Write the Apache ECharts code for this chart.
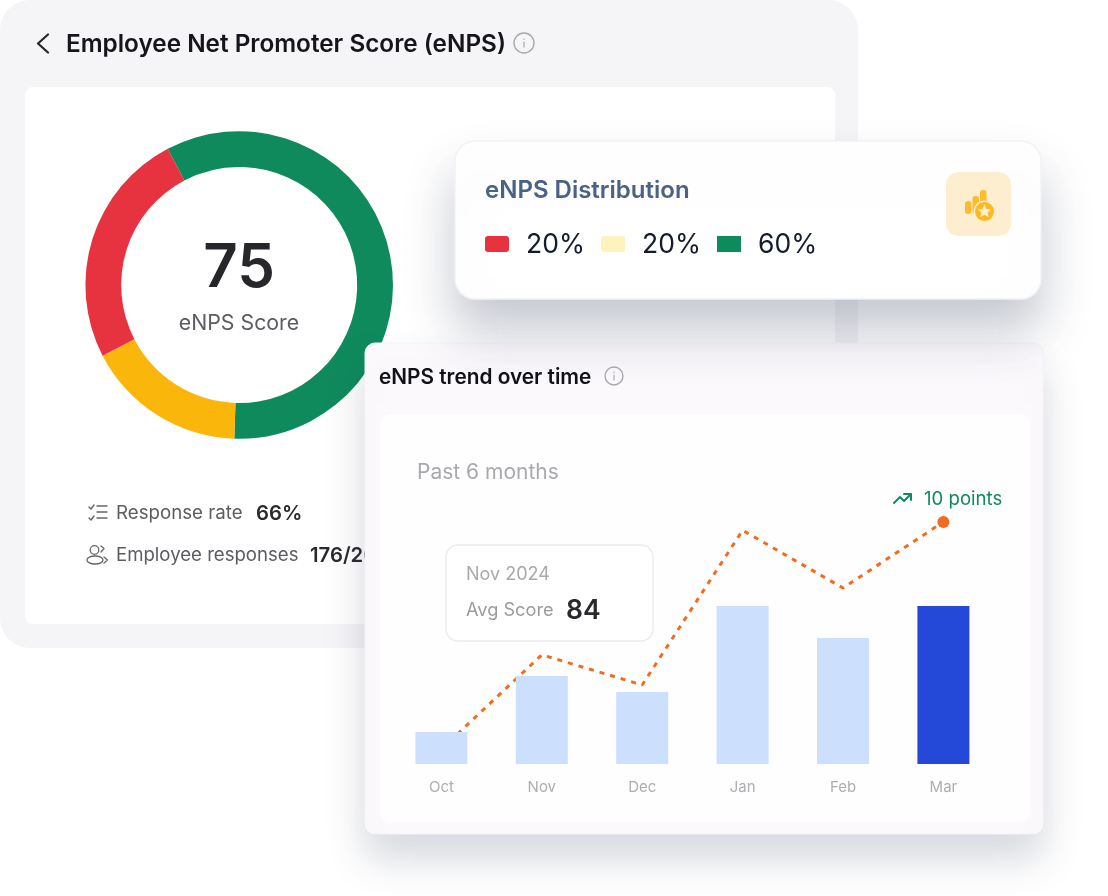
<!DOCTYPE html>
<html><head><meta charset="utf-8">
<style>html,body{margin:0;padding:0;background:#fff}#c{width:1108px;height:896px}</style>
<script src="https://cdn.jsdelivr.net/npm/echarts@6/dist/echarts.min.js"></script>
</head><body><div id="c"></div>
<script>
const donutNames = ['Promoters', 'Passives', 'Detractors'];
const donutValues = [58.2, 16.9, 24.9];
const donutColors = ['#0f8a5d', '#fbb60b', '#e7323f'];
const months = ['Oct', 'Nov', 'Dec', 'Jan', 'Feb', 'Mar'];
const barValues = [24.6, 67.7, 55.4, 121.5, 96.9, 121.5];
const lineValues = [11.5, 84, 60.8, 179.8, 135.4, 186.2];
const legendLabels = ['20%', '20%', '60%'];
const legendColors = ['#e8323f', '#fef3bd', '#0f8a5d'];

const F = 'Inter, "Noto Sans", sans-serif';
const text = (x, y, t, size, color, weight, z, align) => ({
  type: 'text', z: z, silent: true,
  style: { x, y, text: t, font: `${weight || 400} ${size}px ${F}`, fill: color, textAlign: align || 'left', textVerticalAlign: 'middle' }
});
const rect = (x, y, w, h, r, style, z) => ({
  type: 'rect', z: z, silent: true, shape: { x, y, width: w, height: h, r }, style
});
const stroke = (color, w) => ({ stroke: color, lineWidth: w, fill: null, lineCap: 'round', lineJoin: 'round' });
const poly = (points, color, w, z) => ({ type: 'polyline', z, silent: true, shape: { points }, style: stroke(color, w) });
const ring = (cx, cy, r, color, w, z) => ({ type: 'circle', z, silent: true, shape: { cx, cy, r }, style: stroke(color, w) });
const info = (cx, cy, r, z) => [
  ring(cx, cy, r, '#a8a8ac', 1.4, z),
  poly([[cx, cy - 1], [cx, cy + 4]], '#a8a8ac', 1.2, z),
  poly([[cx, cy - 4], [cx, cy - 3.6]], '#a8a8ac', 1.2, z)
];

const Z1 = 1, Z3 = 6;
const C3 = 3.5, C2 = 3.55, INNER = 3.6, C2T = 3.7;
const elements = [
  // back card
  rect(0, 0, 858, 648, 30, { fill: '#f5f4f7' }, Z1 - 0.5),
  rect(25, 87, 810, 537, 8, { fill: '#ffffff' }, Z1 - 0.4),
  poly([[48, 34.5], [38, 43.5], [48, 52.5]], '#26262b', 2.3, Z1),
  text(66, 45, 'Employee Net Promoter Score (eNPS)', 24.3, '#15151c', 600, Z1),
  ...info(524, 43, 10, Z1),
  text(239, 269, '75', 60, '#26262b', 600, Z1, 'center'),
  text(239, 324, 'eNPS Score', 21.3, '#5c5c62', 400, Z1, 'center'),
  // response rows
  poly([[89, 507], [91, 509], [94, 505]], '#666', 1.4, Z1),
  poly([[89, 518], [91, 520], [94, 516]], '#666', 1.4, Z1),
  poly([[97, 506], [107, 506]], '#666', 1.4, Z1),
  poly([[97, 512], [107, 512]], '#666', 1.4, Z1),
  poly([[97, 518], [107, 518]], '#666', 1.4, Z1),
  text(116, 513, 'Response rate', 18.7, '#5c5c62', 400, Z1),
  text(256, 513.5, '66%', 20.3, '#2a2a2e', 600, Z1),
  ring(94.5, 550, 4.3, '#666', 1.3, Z1),
  { type: 'ellipse', z: Z1, silent: true, shape: { cx: 95, cy: 560, rx: 8, ry: 4 }, style: stroke('#666', 1.3) },
  poly([[101, 546], [104, 548.5], [101, 552]], '#666', 1.3, Z1),
  poly([[104, 557], [107.5, 560], [104, 563]], '#666', 1.3, Z1),
  text(116, 555, 'Employee responses', 18.6, '#5c5c62', 400, Z1),
  text(310, 555.5, '176/266', 20.3, '#2a2a2e', 600, Z1),
  // trend card (under the shadow of the distribution card)
  rect(365, 343, 678, 491, 10, { fill: '#fbf9fc', stroke: '#f6f4f8', lineWidth: 1, shadowBlur: 40, shadowOffsetY: 24, shadowColor: 'rgba(50,60,90,0.2)' }, C3),
  // distribution card
  rect(455, 141, 586, 158, 20, { fill: '#ffffff', stroke: '#f2f2f6', lineWidth: 1.5, shadowBlur: 50, shadowOffsetY: 32, shadowColor: 'rgba(50,60,90,0.28)' }, C2),
  rect(380, 414, 650, 408, 10, { fill: '#fffeff' }, INNER),
  text(485, 190.5, 'eNPS Distribution', 24, '#4a6285', 600, C2T),
  rect(485, 236, 24, 16, 3, { fill: legendColors[0] }, C2T),
  text(526, 245, legendLabels[0], 26.5, '#141b2d', 400, C2T),
  rect(601, 236, 24, 16, 3, { fill: legendColors[1] }, C2T),
  text(642, 245, legendLabels[1], 26.5, '#141b2d', 400, C2T),
  rect(717, 236, 24, 16, 0, { fill: legendColors[2] }, C2T),
  text(758, 245, legendLabels[2], 26.5, '#141b2d', 400, C2T),
  rect(946, 172, 65, 64, 13, { fill: '#feeed0' }, C2T),
  rect(965, 201, 6.5, 13, 3, { fill: '#fdbc2c' }, C2T),
  rect(972.5, 196, 6.5, 18, 3, { fill: '#fdbc2c' }, C2T),
  rect(980, 190, 6.5, 16, 3, { fill: '#fdbc2c' }, C2T),
  { type: 'circle', z: C2T + .01, silent: true, shape: { cx: 984.5, cy: 211.5, r: 11 }, style: { fill: '#feeed0' } },
  { type: 'circle', z: C2T + .02, silent: true, shape: { cx: 984.5, cy: 211.5, r: 9.5 }, style: { fill: '#fdb822' } },
  { type: 'polygon', z: C2T + .03, silent: true, shape: { points: [[984.5, 204.5], [986.5, 209], [991.2, 209.5], [987.7, 212.6], [988.7, 217.2], [984.5, 214.8], [980.3, 217.2], [981.3, 212.6], [977.8, 209.5], [982.5, 209]] }, style: { fill: '#feeed0' } },
  // trend card content
  text(379, 377.5, 'eNPS trend over time', 20.8, '#111118', 600, Z3),
  ...info(614, 376, 9, Z3),
  text(417, 473, 'Past 6 months', 21, '#a9a9ad', 400, Z3),
  rect(446, 545, 207, 96, 12, { fill: '#ffffff', stroke: '#ececee', lineWidth: 1.5 }, Z3),
  text(466, 575, 'Nov 2024', 18, '#a9a9ad', 400, Z3),
  text(466, 610.5, 'Avg Score', 18.2, '#9a9a9e', 400, Z3),
  text(566, 611, String(lineValues[1]), 26.5, '#2a2a2e', 600, Z3),
  poly([[894, 503], [900, 497], [904, 501], [910, 495]], '#0f8a5d', 2, Z3),
  poly([[904, 494], [911, 494], [911, 500]], '#0f8a5d', 2, Z3),
  text(924, 499, '10 points', 18.6, '#0f8a5d', 400, Z3)
];

const chart = echarts.init(document.getElementById('c'), null, { renderer: 'canvas' });
chart.setOption({
  animation: false,
  textStyle: { fontFamily: F },
  graphic: { elements },
  grid: { left: 391.2, width: 602.4, top: 504, height: 260 },
  xAxis: {
    type: 'category', data: months, z: 7,
    axisLine: { show: false }, axisTick: { show: false },
    axisLabel: { color: '#aeaeb2', fontSize: 15, margin: 16, fontFamily: F }
  },
  yAxis: { type: 'value', min: 0, max: 200, show: false, splitLine: { show: false } },
  series: [
    {
      type: 'pie', z: 2, center: [239.2, 285], radius: [118, 153.8], startAngle: 117.7, clockwise: true,
      label: { show: false }, labelLine: { show: false }, silent: true,
      data: donutNames.map((n, i) => ({ name: n, value: donutValues[i], itemStyle: { color: donutColors[i] } }))
    },
    {
      type: 'line', z: 4.5, data: lineValues.map((v, i) => ({
        value: v,
        symbol: i === lineValues.length - 1 ? 'circle' : 'none',
        symbolSize: 12
      })),
      showAllSymbol: true, silent: true,
      lineStyle: { color: '#f26b21', width: 3, type: [5, 6] },
      itemStyle: { color: '#f26b21' }
    },
    {
      type: 'bar', z: 5, barWidth: 52, silent: true,
      data: barValues.map((v, i) => ({ value: v, itemStyle: { color: i === barValues.length - 1 ? '#2448d8' : '#ccdffd' } }))
    }
  ]
});
</script></body></html>
